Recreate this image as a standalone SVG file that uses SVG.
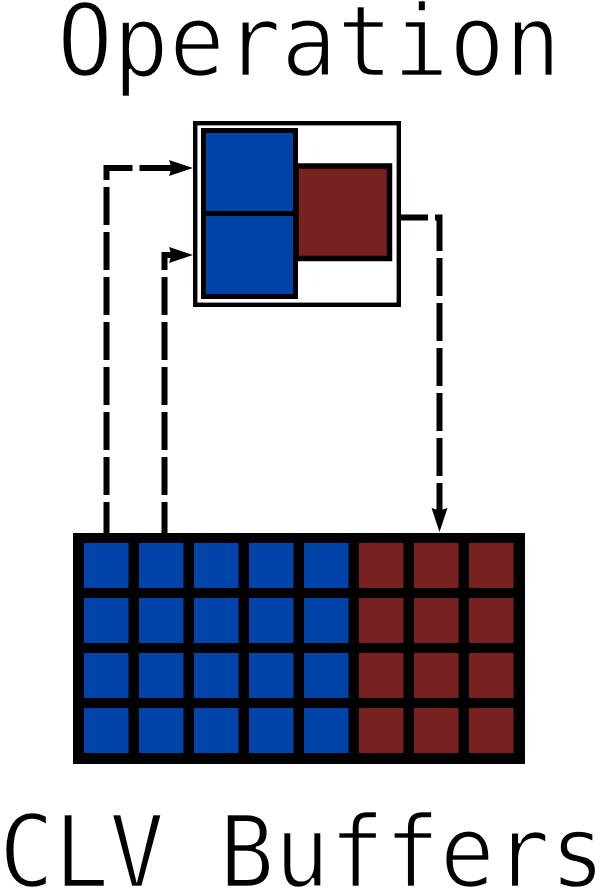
<svg xmlns="http://www.w3.org/2000/svg" width="600" height="889" viewBox="0 0 600 889">
<style>
.t{font-family:"DejaVu Sans Mono","Liberation Mono",monospace;font-size:100px;fill:#000;stroke:#fff;stroke-width:2.4px}
.b{fill:#0044aa}
.r{fill:#782121}
.k{stroke:#000}
.c{fill:none;stroke:#000;stroke-width:6;stroke-dasharray:38 7}
</style>
<defs>
<marker id="ah" markerUnits="userSpaceOnUse" markerWidth="30" markerHeight="20" refX="0" refY="0" orient="auto" overflow="visible">
<path d="M20,0 L-4,-8 L-1.5,0 L-4,8 Z" fill="#000"/>
</marker>
</defs>
<rect width="600" height="889" fill="#fff"/>
<g id="title"><text class="t" x="57" y="76" textLength="504" lengthAdjust="spacingAndGlyphs">Operation</text></g>
<g id="connectors">
<path class="c" d="M106.5,540 V168 H173" marker-end="url(#ah)"/>
<path class="c" d="M164.5,540 V255 H173" marker-end="url(#ah)"/>
<path class="c" d="M390,217.5 H439.5 V512" marker-end="url(#ah)"/>
</g>
<g id="operation">
<rect x="195.2" y="123.2" width="203.6" height="181.6" fill="#fff" stroke="#000" stroke-width="4.4"/>
<rect class="r k" x="296" y="166" width="93.5" height="92.5" stroke-width="5.5"/>
<rect class="b k" x="203.5" y="130.5" width="92" height="83" stroke-width="5"/>
<rect class="b k" x="203.5" y="213.5" width="92" height="83" stroke-width="5"/>
</g>
<g id="clv-buffers">
<rect x="73" y="533" width="452" height="231" fill="#000"/>
<g class="b">
<rect x="84" y="543" width="44.5" height="45"/><rect x="139" y="543" width="44.5" height="45"/><rect x="194" y="543" width="44.5" height="45"/><rect x="249" y="543" width="44.5" height="45"/><rect x="304" y="543" width="44.5" height="45"/>
<rect x="84" y="598" width="44.5" height="45"/><rect x="139" y="598" width="44.5" height="45"/><rect x="194" y="598" width="44.5" height="45"/><rect x="249" y="598" width="44.5" height="45"/><rect x="304" y="598" width="44.5" height="45"/>
<rect x="84" y="653" width="44.5" height="45"/><rect x="139" y="653" width="44.5" height="45"/><rect x="194" y="653" width="44.5" height="45"/><rect x="249" y="653" width="44.5" height="45"/><rect x="304" y="653" width="44.5" height="45"/>
<rect x="84" y="708" width="44.5" height="45"/><rect x="139" y="708" width="44.5" height="45"/><rect x="194" y="708" width="44.5" height="45"/><rect x="249" y="708" width="44.5" height="45"/><rect x="304" y="708" width="44.5" height="45"/>
</g>
<g class="r">
<rect x="359" y="543" width="44.5" height="45"/><rect x="414" y="543" width="44.5" height="45"/><rect x="469" y="543" width="44.5" height="45"/>
<rect x="359" y="598" width="44.5" height="45"/><rect x="414" y="598" width="44.5" height="45"/><rect x="469" y="598" width="44.5" height="45"/>
<rect x="359" y="653" width="44.5" height="45"/><rect x="414" y="653" width="44.5" height="45"/><rect x="469" y="653" width="44.5" height="45"/>
<rect x="359" y="708" width="44.5" height="45"/><rect x="414" y="708" width="44.5" height="45"/><rect x="469" y="708" width="44.5" height="45"/>
</g>
</g>
<g id="label"><text class="t" x="-1" y="887" textLength="606" lengthAdjust="spacingAndGlyphs">CLV Buffers</text></g>
</svg>
